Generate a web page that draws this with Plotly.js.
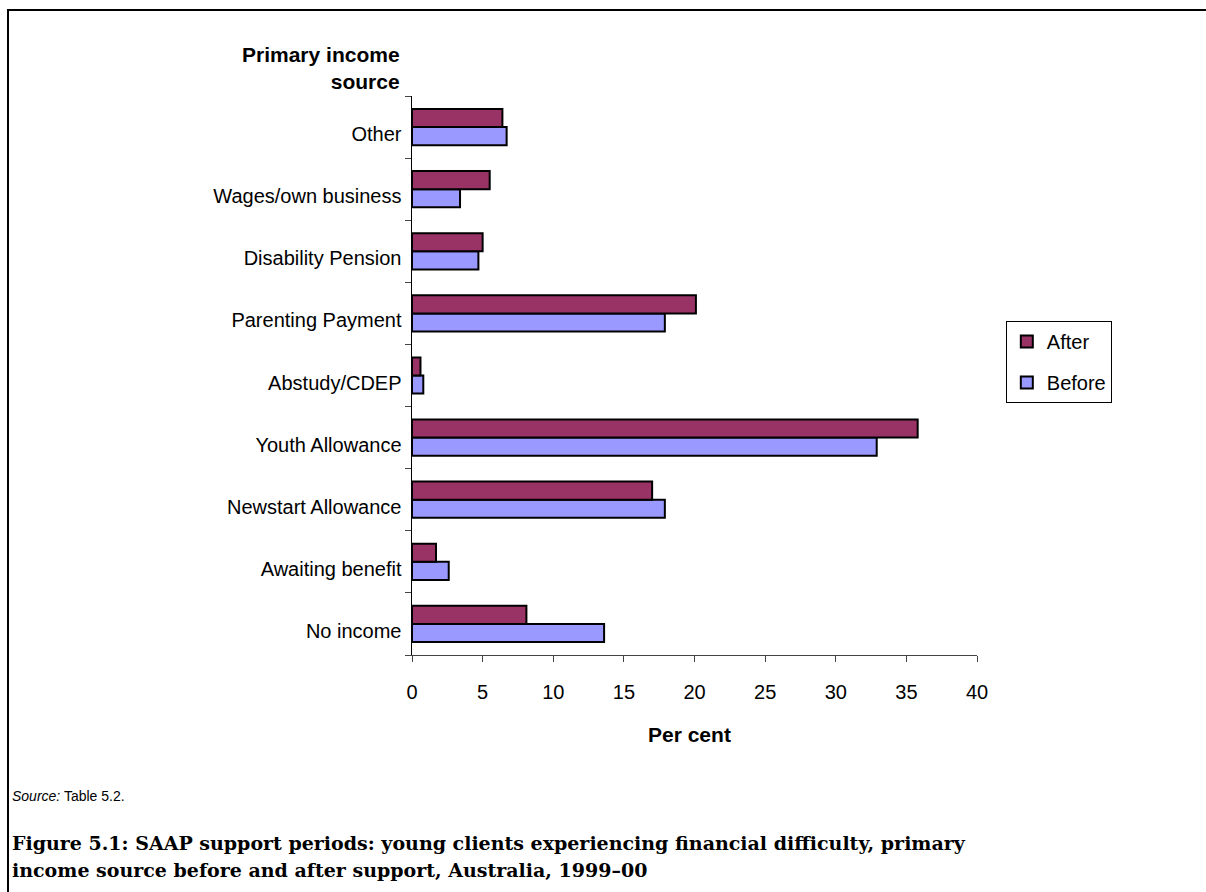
<!DOCTYPE html>
<html>
<head>
<meta charset="utf-8">
<script src="https://cdn.plot.ly/plotly-3.0.1.min.js"></script>
<style>
  html, body { margin: 0; padding: 0; overflow: hidden; background: #fff; }
  #frame { position: absolute; left: 7px; top: 9px; width: 1400px; height: 1100px; border: 2px solid #000; pointer-events: none; z-index: 5; }
  #chart { position: absolute; left: 0; top: 0; width: 1206px; height: 892px; }
</style>
</head>
<body>
<div id="chart"></div>
<div id="frame"></div>
<script>
// Categories listed bottom to top (Plotly places the first category at the bottom)
const categories = ["No income", "Awaiting benefit", "Newstart Allowance", "Youth Allowance",
  "Abstudy/CDEP", "Parenting Payment", "Disability Pension", "Wages/own business", "Other"];
const afterValues  = [8.1, 1.7, 17.0, 35.8, 0.6, 20.1, 5.0, 5.5, 6.4];
const beforeValues = [13.6, 2.6, 17.9, 32.9, 0.8, 17.9, 4.7, 3.4, 6.7];
const xTicks = [0, 5, 10, 15, 20, 25, 30, 35, 40];

const FONT = "Liberation Sans, Arial, sans-serif";

const traces = [
  { type: "bar", orientation: "h", name: "Before", y: categories, x: beforeValues,
    legendgroup: "b", legendrank: 2,
    marker: { color: "#9999FF", line: { color: "#000", width: 2 } } },
  { type: "bar", orientation: "h", name: "After", y: categories, x: afterValues,
    legendgroup: "a", legendrank: 1,
    marker: { color: "#993366", line: { color: "#000", width: 2 } } }
];

const layout = {
  width: 1206, height: 892,
  margin: { l: 412, r: 229, t: 96, b: 237 },
  paper_bgcolor: "#fff", plot_bgcolor: "#fff",
  font: { family: FONT, size: 20, color: "#000" },
  barmode: "group", bargap: 0.417, bargroupgap: 0,
  showlegend: true,
  legend: {
    x: 1.051, y: 0.5975, xanchor: "left", yanchor: "top",
    bordercolor: "#000", borderwidth: 1, bgcolor: "#fff",
    traceorder: "grouped", tracegroupgap: 12,
    font: { family: FONT, size: 20, color: "#000" }
  },
  xaxis: {
    range: [0, 40], tickvals: xTicks, ticktext: xTicks.map(String),
    showgrid: false, zeroline: false, showline: true, linecolor: "#444", linewidth: 1,
    ticks: "outside", ticklen: 6, tickcolor: "#444", tickwidth: 1,
    ticklabelstandoff: 13,
    tickfont: { family: FONT, size: 20, color: "#000" },
    fixedrange: true
  },
  yaxis: {
    type: "category", categoryorder: "array", categoryarray: categories,
    showgrid: false, zeroline: false, showline: true, linecolor: "#000", linewidth: 1.5,
    ticks: "outside", ticklen: 6, tickcolor: "#444", tickwidth: 1, tickson: "boundaries",
    ticklabelstandoff: 5, ticklabelshift: 7,
    tickfont: { family: FONT, size: 20, color: "#000" },
    fixedrange: true
  },
  annotations: [
    { text: "<b>Primary income<br>source</b>", xref: "paper", yref: "paper",
      x: -0.017, y: 1.05, xanchor: "right", yanchor: "middle", align: "right",
      showarrow: false, font: { family: FONT, size: 21, color: "#000" } },
    { text: "<b>Per cent</b>", xref: "paper", yref: "paper",
      x: 0.492, y: -0.143, xanchor: "center", yanchor: "middle",
      showarrow: false, font: { family: FONT, size: 21, color: "#000" } },
    { text: "<i>Source:</i> Table 5.2.", xref: "paper", yref: "paper",
      x: -0.7115, y: -0.2522, xanchor: "left", yanchor: "middle", align: "left",
      showarrow: false, font: { family: FONT, size: 14, color: "#000" } },
    { text: "<b>Figure 5.1: SAAP support periods: young clients experiencing financial difficulty, primary</b>",
      xref: "paper", yref: "paper",
      x: -0.7115, y: -0.3363, xanchor: "left", yanchor: "middle", align: "left",
      showarrow: false, font: { family: "DejaVu Serif, serif", size: 19, color: "#000" } },
    { text: "<b>income source before and after support, Australia, 1999–00</b>",
      xref: "paper", yref: "paper",
      x: -0.7115, y: -0.3846, xanchor: "left", yanchor: "middle", align: "left",
      showarrow: false, font: { family: "DejaVu Serif, serif", size: 19, color: "#000" } }
  ]
};

Plotly.newPlot("chart", traces, layout, { displayModeBar: false, staticPlot: true });
</script>
</body>
</html>
